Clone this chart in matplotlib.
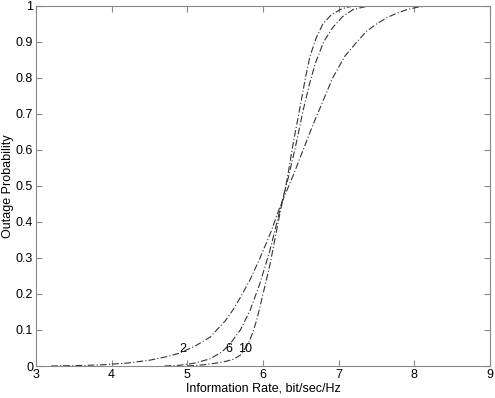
import matplotlib
matplotlib.use('Agg')
import matplotlib.pyplot as plt

plt.rcParams['font.family'] = ['Liberation Sans', 'DejaVu Sans']

# outage curves (rate, probability)
rate_2 = [3.2, 3.5, 3.85, 4.2, 4.5, 4.75, 4.9, 5.1, 5.3, 5.5, 5.6, 5.7, 5.83, 5.96, 6.1, 6.22,
	6.4, 6.53, 6.66, 6.8, 6.92, 7.08, 7.24, 7.37, 7.5, 7.64, 7.77, 7.9, 8.05, 8.2]
prob_2 = [0.0, 0.001, 0.003, 0.008, 0.016, 0.027, 0.036, 0.055, 0.08, 0.125, 0.155, 0.19, 0.24, 0.30, 0.37, 0.44,
	0.53, 0.60, 0.67, 0.74, 0.80, 0.86, 0.90, 0.93, 0.95, 0.968, 0.98, 0.99, 0.997, 1.0]

rate_6 = [4.7, 4.9, 5.1, 5.3, 5.45, 5.56, 5.7, 5.83, 5.96, 6.09, 6.22, 6.33, 6.43, 6.53, 6.61,
	6.69, 6.8, 6.92, 7.05, 7.19, 7.35, 7.5]
prob_6 = [0.0, 0.002, 0.008, 0.02, 0.038, 0.06, 0.10, 0.155, 0.23, 0.32, 0.43, 0.52, 0.61, 0.71, 0.78,
	0.84, 0.90, 0.94, 0.97, 0.99, 0.998, 1.0]

rate_10 = [5.0, 5.2, 5.45, 5.6, 5.7, 5.8, 5.86, 5.92, 6.0, 6.09, 6.22, 6.32, 6.4, 6.49, 6.56,
	6.62, 6.7, 6.79, 6.9, 7.02, 7.1, 7.2]
prob_10 = [0.0, 0.003, 0.01, 0.018, 0.03, 0.06, 0.09, 0.13, 0.2, 0.28, 0.42, 0.52, 0.62, 0.72, 0.80,
	0.86, 0.91, 0.95, 0.975, 0.99, 0.996, 1.0]

labels = ['2', '6', '10']
label_x = [4.94, 5.55, 5.76]
label_y = 0.047

fig = plt.figure(figsize=(4.95, 3.98), dpi=100)
ax = fig.add_axes([0.0727, 0.0804, 0.9173, 0.9046])

for r, p in [(rate_2, prob_2), (rate_6, prob_6), (rate_10, prob_10)]:
	ax.plot(r, p, linestyle=(0, (6, 2, 1, 2)), color='#333333', linewidth=0.8)

for t, lx in zip(labels, label_x):
	ax.text(lx, label_y, t, fontsize=9, ha='center', va='center')

ax.set_xlim(3, 9)
ax.set_ylim(0, 1)
ax.set_xticks(range(3, 10))
ax.set_yticks([0, 0.1, 0.2, 0.3, 0.4, 0.5, 0.6, 0.7, 0.8, 0.9, 1])
ax.set_yticklabels(['0', '0.1', '0.2', '0.3', '0.4', '0.5', '0.6', '0.7', '0.8', '0.9', '1'])
ax.tick_params(direction='in', top=True, right=True, labelsize=9, length=4, color='#888888', pad=2)
for s in ax.spines.values():
	s.set_color('#888888')
	s.set_linewidth(0.8)
ax.set_xlabel('Information Rate, bit/sec/Hz', fontsize=9, labelpad=1)
ax.set_ylabel('Outage Probability', fontsize=9, labelpad=1)

fig.savefig('out.png', dpi=100)
